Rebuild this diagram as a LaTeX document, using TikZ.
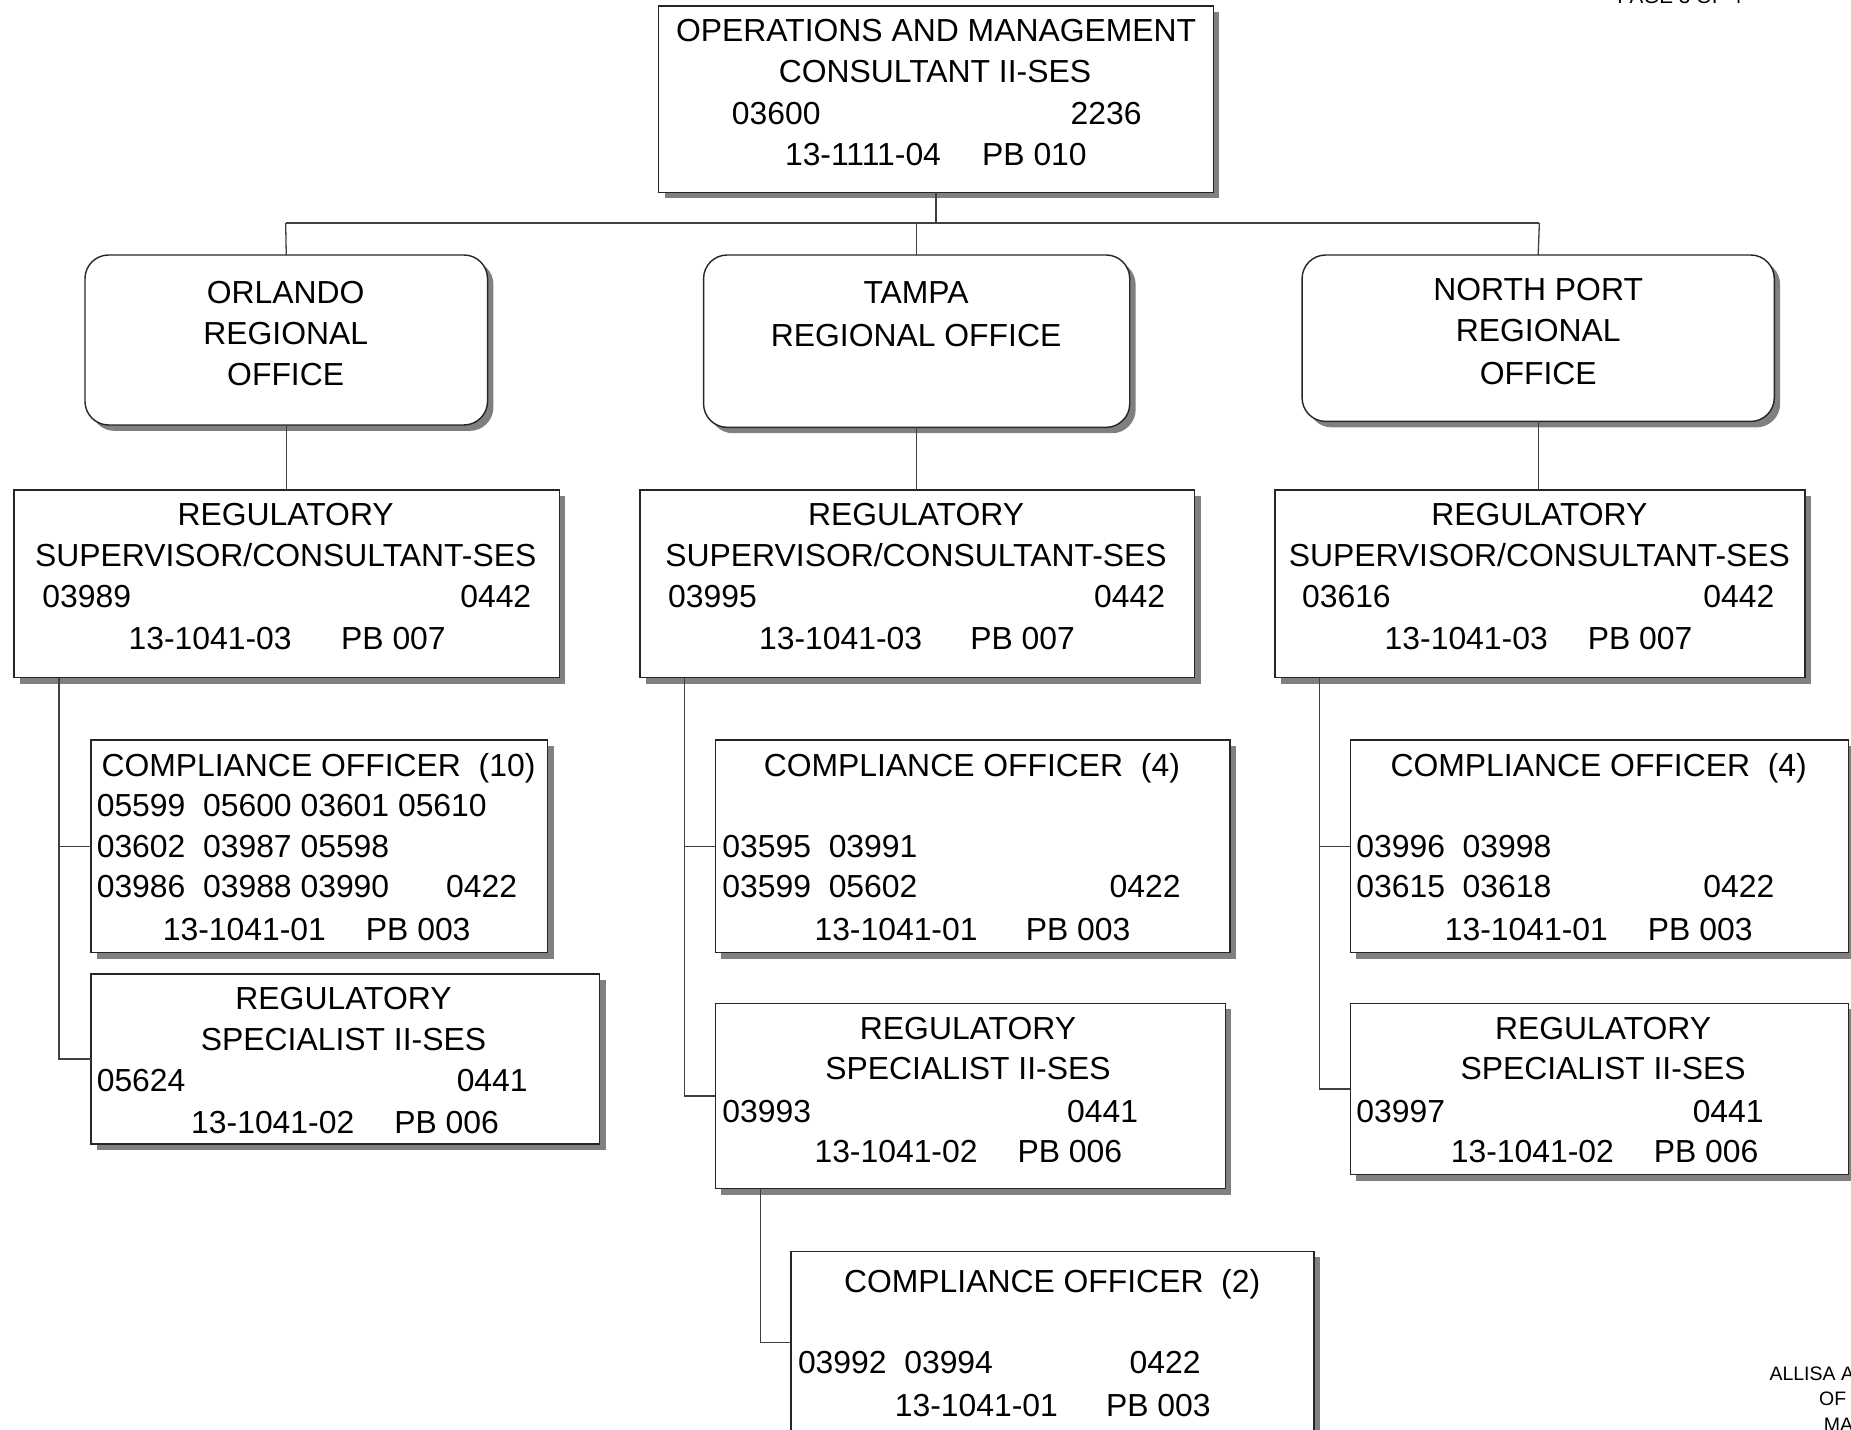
\documentclass[tikz,border=0pt]{standalone}
\usepackage{fontspec}
\setmainfont{Liberation Sans}
\usetikzlibrary{shadows}

% box from (x1,y1) to (x2,y2): [style]{name}{x1}{y1}{x2}{y2}
\newcommand\orgbox[6][box]{%
  \pgfmathsetmacro\orgbw{#5-#3}\pgfmathsetmacro\orgbh{#6-#4}%
  \node[#1, minimum width=\orgbw pt, minimum height=\orgbh pt] (#2) at ({(#3+#5)/2},{(#4+#6)/2}) {};}
% text line: [anchor]{name}{x,y}{text}
\newcommand\orgtx[4][base]{\node[lab, anchor=#1] (#2) at (#3) {#4};}

\begin{document}
\begin{tikzpicture}[x=1pt,y=-1pt,
  box/.style={draw=black!85, fill=white, line width=1.2pt, inner sep=0pt, outer sep=0pt,
    drop shadow={shadow xshift=5pt, shadow yshift=-5pt, fill=black!50, opacity=1}},
  office/.style={box, rounded corners=20pt},
  link/.style={draw=black!75, line width=1.1pt},
  lab/.style={inner sep=0pt, outer sep=0pt, font=\fontsize{27}{32}\selectfont},
  note/.style={inner sep=0pt, outer sep=0pt, font=\fontsize{17.5}{21}\selectfont},
  sign/.style={inner sep=0pt, outer sep=0pt, font=\fontsize{16.5}{20}\selectfont}]

\useasboundingbox (0,0) rectangle (1568,1211);
\fill[white] (0,0) rectangle (1568,1211);

% ---------- boxes ----------
\orgbox{top}{558}{5}{1028}{163}
\orgbox[office]{orl}{72}{216}{413}{360}
\orgbox[office]{tam}{596}{216}{957}{362}
\orgbox[office]{np}{1103}{216}{1503}{357}
\orgbox{orlsup}{12}{415}{474}{574}
\orgbox{tamsup}{542}{415}{1012}{574}
\orgbox{npsup}{1080}{415}{1529}{574}
\orgbox{orlco}{77}{627}{464}{807}
\orgbox{orlspec}{77}{825}{508}{969}
\orgbox{tamco}{606}{627}{1042}{807}
\orgbox{tamspec}{606}{850}{1038}{1007}
\orgbox{tamcob}{670}{1060}{1113}{1214}
\orgbox{npco}{1144}{627}{1566}{807}
\orgbox{npspec}{1144}{850}{1566}{995}

% ---------- connectors ----------
\coordinate (busL) at (242,189);
\coordinate (busR) at (1304,189);
\draw[link] (top.south) -- (top.south |- busL);
\draw[link] (busL) -- (busR);
\draw[link] (busL) -- (orl.north);
\draw[link] (tam.north |- busL) -- (tam.north);
\draw[link] (busR) -- (np.north);
\draw[link] (orl.south) -- (orl.south |- orlsup.north);
\draw[link] (tam.south) -- (tam.south |- tamsup.north);
\draw[link] (np.south) -- (np.south |- npsup.north);

\coordinate (otrunk) at (50,574);
\draw[link] (otrunk) |- (orlspec.west);
\draw[link] (otrunk |- orlco.west) -- (orlco.west);

\coordinate (ttrunk) at (580,574);
\draw[link] (ttrunk) |- (tamspec.west);
\draw[link] (ttrunk |- tamco.west) -- (tamco.west);
\coordinate (ttrunkb) at (644,1007);
\draw[link] (ttrunkb) |- (tamcob.west);

\coordinate (ntrunk) at (1118,574);
\draw[link] (ntrunk) |- (npspec.west);
\draw[link] (ntrunk |- npco.west) -- (npco.west);

% ---------- texts ----------
\orgtx{a1}{793,35.5}{OPERATIONS AND MANAGEMENT}
\orgtx{a2}{792,69.5}{CONSULTANT II-SES}
\orgtx[base west]{a3}{620,105.5}{03600}
\orgtx[base east]{a4}{967,105.5}{2236}
\orgtx[base west]{a5}{665,140.5}{13-1111-04}
\orgtx[base west]{a6}{832,140.5}{PB 010}

\orgtx{b1}{242,257.5}{ORLANDO}
\orgtx{b2}{242,291.5}{REGIONAL}
\orgtx{b3}{242,326.5}{OFFICE}
\orgtx{c1}{776,257.5}{TAMPA}
\orgtx{c2}{776,293.5}{REGIONAL OFFICE}
\orgtx{d1}{1303,254.5}{NORTH PORT}
\orgtx{d2}{1303,289.5}{REGIONAL}
\orgtx{d3}{1303,325.5}{OFFICE}

\orgtx{e1}{242,445.5}{REGULATORY}
\orgtx{e2}{242,479.5}{SUPERVISOR/CONSULTANT-SES}
\orgtx[base west]{e3}{36,514.5}{03989}
\orgtx[base east]{e4}{450,514.5}{0442}
\orgtx[base west]{e5}{109,550.5}{13-1041-03}
\orgtx[base west]{e6}{289,550.5}{PB 007}

\orgtx{f1}{776,445.5}{REGULATORY}
\orgtx{f2}{776,479.5}{SUPERVISOR/CONSULTANT-SES}
\orgtx[base west]{f3}{566,514.5}{03995}
\orgtx[base east]{f4}{987,514.5}{0442}
\orgtx[base west]{f5}{643,550.5}{13-1041-03}
\orgtx[base west]{f6}{822,550.5}{PB 007}

\orgtx{g1}{1304,445.5}{REGULATORY}
\orgtx{g2}{1304,479.5}{SUPERVISOR/CONSULTANT-SES}
\orgtx[base west]{g3}{1103,514.5}{03616}
\orgtx[base east]{g4}{1503,514.5}{0442}
\orgtx[base west]{g5}{1173,550.5}{13-1041-03}
\orgtx[base west]{g6}{1345,550.5}{PB 007}

\orgtx[base west]{h1}{86,657.5}{COMPLIANCE OFFICER\ \ (10)}
\orgtx[base west]{h2}{82,691.5}{05599\ \ 05600 03601 05610}
\orgtx[base west]{h3}{82,726.5}{03602\ \ 03987 05598}
\orgtx[base west]{h4}{82,760.5}{03986\ \ 03988 03990}
\orgtx[base east]{h5}{438,760.5}{0422}
\orgtx[base west]{h6}{138,796.5}{13-1041-01}
\orgtx[base west]{h7}{310,796.5}{PB 003}

\orgtx{i1}{291,855.5}{REGULATORY}
\orgtx{i2}{291,889.5}{SPECIALIST II-SES}
\orgtx[base west]{i3}{82,924.5}{05624}
\orgtx[base east]{i4}{447,924.5}{0441}
\orgtx[base west]{i5}{162,960.5}{13-1041-02}
\orgtx[base west]{i6}{334,960.5}{PB 006}

\orgtx[base west]{j1}{647,657.5}{COMPLIANCE OFFICER\ \ (4)}
\orgtx[base west]{j2}{612,726.5}{03595\ \ 03991}
\orgtx[base west]{j3}{612,760.5}{03599\ \ 05602}
\orgtx[base east]{j4}{1000,760.5}{0422}
\orgtx[base west]{j5}{690,796.5}{13-1041-01}
\orgtx[base west]{j6}{869,796.5}{PB 003}

\orgtx{k1}{820,880.5}{REGULATORY}
\orgtx{k2}{820,914.5}{SPECIALIST II-SES}
\orgtx[base west]{k3}{612,950.5}{03993}
\orgtx[base east]{k4}{964,950.5}{0441}
\orgtx[base west]{k5}{690,984.5}{13-1041-02}
\orgtx[base west]{k6}{862,984.5}{PB 006}

\orgtx[base west]{l1}{715,1094.5}{COMPLIANCE OFFICER\ \ (2)}
\orgtx[base west]{l2}{676,1163.5}{03992\ \ 03994}
\orgtx[base east]{l3}{1017,1163.5}{0422}
\orgtx[base west]{l4}{758,1199.5}{13-1041-01}
\orgtx[base west]{l5}{937,1199.5}{PB 003}

\orgtx[base west]{m1}{1178,657.5}{COMPLIANCE OFFICER\ \ (4)}
\orgtx[base west]{m2}{1149,726.5}{03996\ \ 03998}
\orgtx[base west]{m3}{1149,760.5}{03615\ \ 03618}
\orgtx[base east]{m4}{1503,760.5}{0422}
\orgtx[base west]{m5}{1224,796.5}{13-1041-01}
\orgtx[base west]{m6}{1396,796.5}{PB 003}

\orgtx{n1}{1358,880.5}{REGULATORY}
\orgtx{n2}{1358,914.5}{SPECIALIST II-SES}
\orgtx[base west]{n3}{1149,950.5}{03997}
\orgtx[base east]{n4}{1494,950.5}{0441}
\orgtx[base west]{n5}{1229,984.5}{13-1041-02}
\orgtx[base west]{n6}{1401,984.5}{PB 006}

% ---------- page notes ----------
\node[note, anchor=base west] (pg) at (1370,3) {PAGE 3 OF 4};
\node[sign, anchor=base west] (sg1) at (1499,1169) {ALLISA A};
\node[sign, anchor=base west] (sg2) at (1541,1191) {OF};
\node[sign, anchor=base west] (sg3) at (1545,1213) {MA};
\end{tikzpicture}
\end{document}
